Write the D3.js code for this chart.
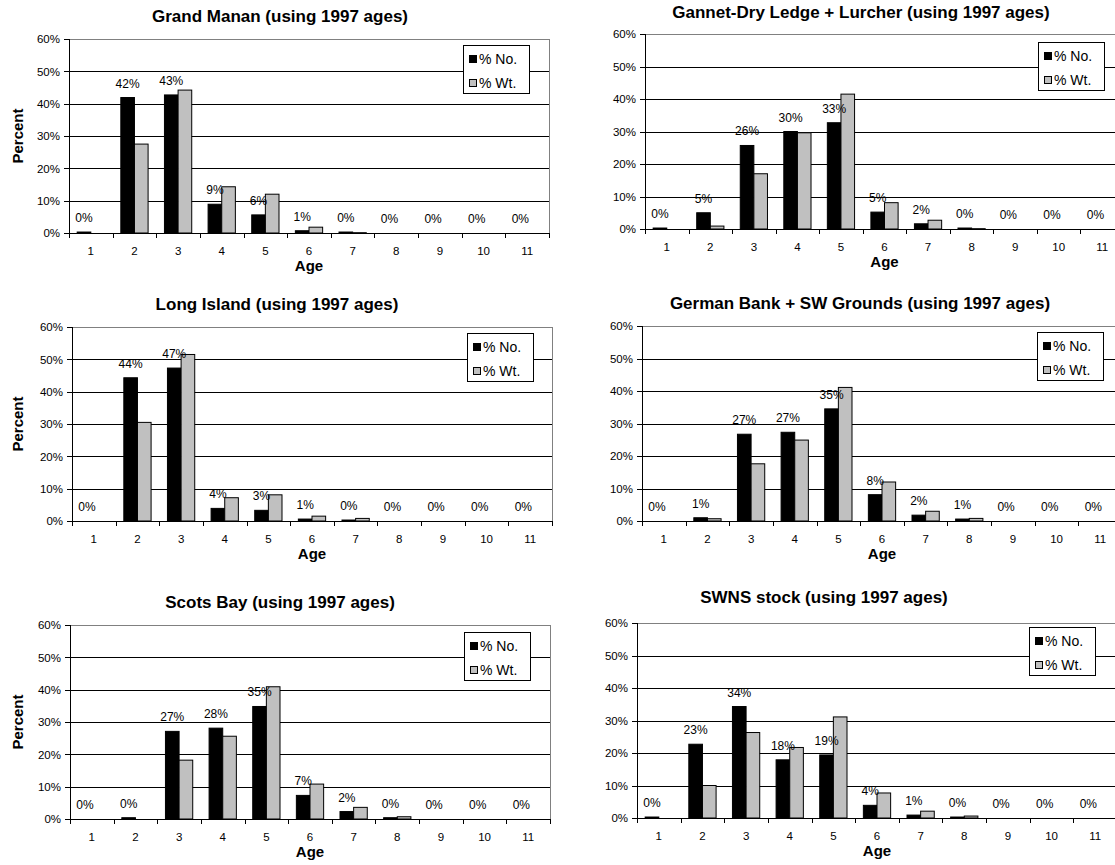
<!DOCTYPE html>
<html lang="en">
<head>
<meta charset="UTF-8">
<title>Age composition (using 1997 ages)</title>
<script src="https://cdn.jsdelivr.net/npm/d3@7"></script>
<style>
  body { margin: 0; background: #fff; }
  svg text { font-family: "Liberation Sans", Arial, sans-serif; fill: #000; }
  .title { font-size: 17px; font-weight: bold; }
  .axis-title { font-size: 15px; font-weight: bold; }
  .axis text { font-size: 11.5px; }
  .axis path, .axis line { stroke: #000; shape-rendering: crispEdges; }
  .grid line { stroke: #000; shape-rendering: crispEdges; }
  .grid path { display: none; }
  .bar-label { font-size: 12px; }
  .legend text { font-size: 14px; }
</style>
</head>
<body>
<svg id="chart" width="1115" height="865"></svg>
<script>
const ages = ["1", "2", "3", "4", "5", "6", "7", "8", "9", "10", "11"];
const yTicks = [0, 10, 20, 30, 40, 50, 60];
const seriesNames = ["% No.", "% Wt."];
const seriesColors = ["#000000", "#c0c0c0"];

const titles = [
    "Grand Manan (using 1997 ages)",
    "Gannet-Dry Ledge + Lurcher (using 1997 ages)",
    "Long Island (using 1997 ages)",
    "German Bank + SW Grounds (using 1997 ages)",
    "Scots Bay (using 1997 ages)",
    "SWNS stock (using 1997 ages)"
];

// percent values by age (1..11)
const grandMananNo = [0.3, 41.9, 42.7, 8.9, 5.6, 0.7, 0.3, 0, 0, 0, 0];
const grandMananWt = [0, 27.5, 44.2, 14.3, 12.0, 1.8, 0.1, 0, 0, 0, 0];
const gannetNo = [0.3, 5.0, 25.7, 30.0, 32.7, 5.2, 1.6, 0.3, 0, 0, 0];
const gannetWt = [0, 0.9, 17.0, 29.6, 41.5, 8.1, 2.7, 0.1, 0, 0, 0];
const longIslandNo = [0, 44.3, 47.3, 3.9, 3.3, 0.6, 0.3, 0, 0, 0, 0];
const longIslandWt = [0, 30.5, 51.5, 7.2, 8.1, 1.5, 0.8, 0, 0, 0, 0];
const germanBankNo = [0, 1.0, 26.7, 27.3, 34.5, 8.1, 1.8, 0.6, 0, 0, 0];
const germanBankWt = [0, 0.7, 17.6, 24.9, 41.1, 12.0, 3.0, 0.8, 0, 0, 0];
const scotsBayNo = [0, 0.4, 27.1, 28.1, 34.8, 7.3, 2.3, 0.4, 0, 0, 0];
const scotsBayWt = [0, 0, 18.2, 25.6, 40.9, 10.8, 3.6, 0.7, 0, 0, 0];
const swnsNo = [0.3, 22.7, 34.3, 17.9, 19.4, 3.9, 0.9, 0.3, 0, 0, 0];
const swnsWt = [0, 10.0, 26.3, 21.7, 31.1, 7.7, 2.1, 0.6, 0, 0, 0];

const numbers = [grandMananNo, gannetNo, longIslandNo, germanBankNo, scotsBayNo, swnsNo];
const weights = [grandMananWt, gannetWt, longIslandWt, germanBankWt, scotsBayWt, swnsWt];

// plot area boxes and where the title / legend sit
const frames = [
    {l: 69,  t: 39,  r: 549,  b: 233, titleX: 280, titleY: 22,  legX: 463,  legY: 45,  yLabel: true},
    {l: 645, t: 34,  r: 1124, b: 229, titleX: 861, titleY: 18,  legX: 1038, legY: 42,  yLabel: false},
    {l: 72,  t: 327, r: 552,  b: 521, titleX: 277, titleY: 310, legX: 467,  legY: 333, yLabel: true},
    {l: 642, t: 326, r: 1122, b: 521, titleX: 860, titleY: 309, legX: 1037, legY: 332, yLabel: false},
    {l: 70,  t: 625, r: 550,  b: 819, titleX: 280, titleY: 608, legX: 464,  legY: 632, yLabel: true},
    {l: 637, t: 623, r: 1117, b: 818, titleX: 824, titleY: 603, legX: 1029, legY: 627, yLabel: false}
];

const svg = d3.select("#chart");

frames.forEach((f, i) => {
    const width = f.r - f.l, height = f.b - f.t;
    const g = svg.append("g").attr("transform", `translate(${f.l},${f.t})`);

    const x = d3.scaleBand().domain(ages).range([0, width]).padding(0);
    const x1 = d3.scaleBand().domain(seriesNames).range([0, x.bandwidth()])
        .paddingInner(0).paddingOuter(0.6);
    const xb = d3.scaleLinear().domain([0, ages.length]).range([0, width]);
    const y = d3.scaleLinear().domain([0, 60]).range([height, 0]);

    // gridlines
    g.append("g").attr("class", "grid")
        .call(d3.axisLeft(y).tickValues(yTicks.slice(1, -1)).tickSize(-width).tickFormat(""));

    // plot border (top + right) in grey
    g.append("path")
        .attr("d", `M0,0.5H${width}V${height}`)
        .attr("fill", "none").attr("stroke", "#808080")
        .attr("shape-rendering", "crispEdges");

    // bars
    const rows = ages.map((a, k) => ({age: a, vals: [numbers[i][k], weights[i][k]]}));
    const grp = g.append("g").selectAll("g").data(rows).join("g")
        .attr("transform", d => `translate(${x(d.age)},0)`);

    grp.selectAll("rect")
        .data(d => d.vals.map((v, s) => ({v: v, s: s})).filter(d => d.v > 0))
        .join("rect")
        .attr("x", d => x1(seriesNames[d.s]))
        .attr("y", d => y(d.v))
        .attr("width", x1.bandwidth())
        .attr("height", d => height - y(d.v))
        .attr("fill", d => seriesColors[d.s])
        .attr("stroke", "#000")
        .attr("stroke-width", 1);

    // data labels for % No.
    grp.append("text")
        .attr("class", "bar-label")
        .attr("x", x1(seriesNames[0]) + x1.bandwidth() / 2)
        .attr("y", d => y(d.vals[0]) - 10)
        .attr("text-anchor", "middle")
        .text(d => Math.round(d.vals[0]) + "%");

    // axes
    g.append("g").attr("class", "axis")
        .call(d3.axisLeft(y).tickValues(yTicks).tickSize(5).tickPadding(4).tickFormat(d => d + "%"));

    g.append("g").attr("class", "axis")
        .attr("transform", `translate(0,${height})`)
        .call(d3.axisBottom(xb).ticks(ages.length).tickSize(5).tickFormat(""));

    g.append("g").attr("class", "axis")
        .attr("transform", `translate(0,${height})`)
        .call(d3.axisBottom(x).tickSize(0).tickPadding(14))
        .call(a => a.select(".domain").remove());

    // titles
    svg.append("text").attr("class", "title")
        .attr("x", f.titleX).attr("y", f.titleY)
        .attr("text-anchor", "middle")
        .text(titles[i]);

    g.append("text").attr("class", "axis-title")
        .attr("x", width / 2).attr("y", height + 38)
        .attr("text-anchor", "middle")
        .text("Age");

    if (f.yLabel) {
        svg.append("text").attr("class", "axis-title")
            .attr("transform", `translate(23,${f.t + height / 2}) rotate(-90)`)
            .attr("text-anchor", "middle")
            .text("Percent");
    }

    // legend
    const leg = svg.append("g").attr("class", "legend")
        .attr("transform", `translate(${f.legX},${f.legY})`);
    leg.append("rect")
        .attr("width", 66).attr("height", 48)
        .attr("fill", "#fff").attr("stroke", "#000")
        .attr("shape-rendering", "crispEdges");
    const item = leg.selectAll("g").data(seriesNames).join("g")
        .attr("transform", (d, k) => `translate(6,${14 + k * 24})`);
    item.append("rect")
        .attr("x", 0).attr("y", -3.5).attr("width", 7).attr("height", 7)
        .attr("fill", (d, k) => seriesColors[k]).attr("stroke", "#000")
        .attr("shape-rendering", "crispEdges");
    item.append("text")
        .attr("x", 10).attr("dy", "0.35em")
        .text(d => d);
});
</script>
</body>
</html>
